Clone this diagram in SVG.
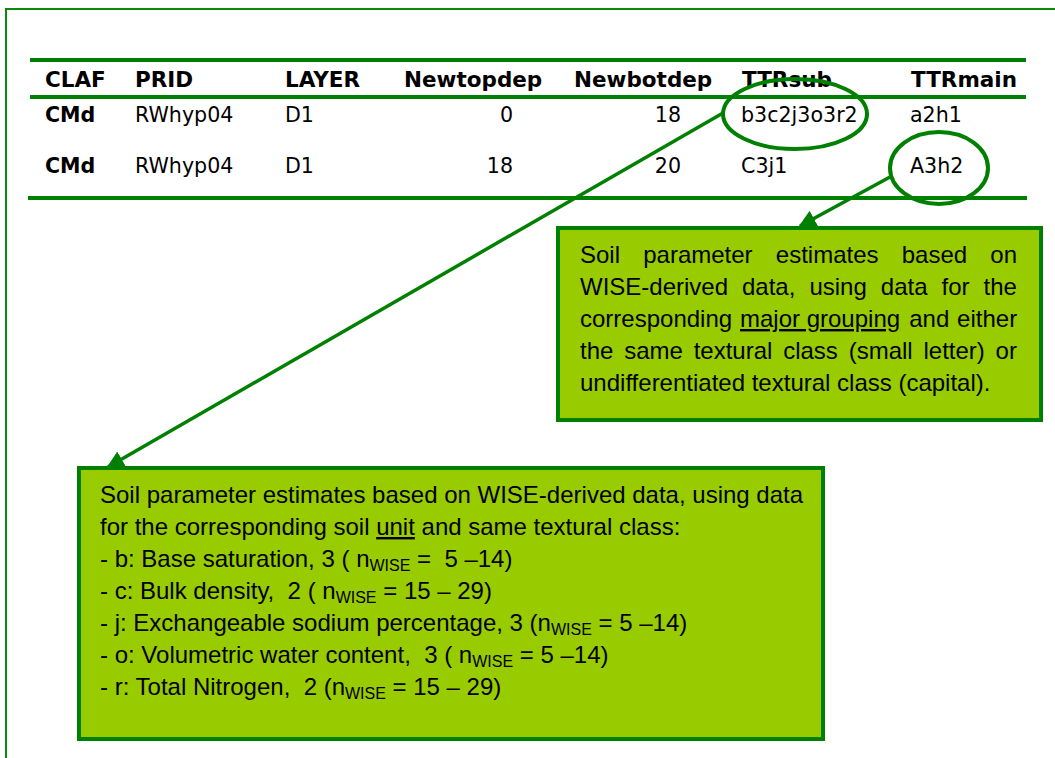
<svg xmlns="http://www.w3.org/2000/svg" width="1055" height="758" viewBox="0 0 1055 758">
<style>
.frame{fill:none;stroke:#0b8a0b;stroke-width:2}
.rule{stroke:#008000;stroke-width:4}
.hd{font-family:"DejaVu Sans",Verdana,sans-serif;font-weight:bold;font-size:21.5px;fill:#000}
.cell{font-family:"DejaVu Sans",Verdana,sans-serif;font-size:20.6px;fill:#000}
.cellb{font-family:"DejaVu Sans",Verdana,sans-serif;font-size:20.6px;font-weight:bold;fill:#000}
.ring{fill:none;stroke:#008000;stroke-width:4}
.box{fill:#99cc00;stroke:#008000;stroke-width:4}
.bt{font-family:"Liberation Sans",Arial,sans-serif;font-size:24px;fill:#000;white-space:pre}
.sub{font-size:16px}
.conn{stroke:#008000;stroke-width:3.5;fill:none}
</style>
<defs>
<marker id="arr" viewBox="0 0 10 10" refX="9" refY="5" markerWidth="5" markerHeight="5" markerUnits="strokeWidth" orient="auto">
<path d="M0,0 L10,5 L0,10 z" fill="#008000"/>
</marker>
</defs>
<rect width="1055" height="758" fill="#fff"/>
<rect class="frame" x="6" y="9" width="1100" height="800"/>

<g id="table">
<line class="rule" x1="30" y1="60" x2="1026" y2="60"/>
<line class="rule" x1="30" y1="97" x2="1026" y2="97"/>
<line class="rule" x1="28" y1="198" x2="1027" y2="198"/>
<text class="hd" x="45" y="87">CLAF</text>
<text class="hd" x="135" y="87">PRID</text>
<text class="hd" x="285" y="87">LAYER</text>
<text class="hd" x="404" y="87">Newtopdep</text>
<text class="hd" x="574" y="87">Newbotdep</text>
<text class="hd" x="742" y="87">TTRsub</text>
<text class="hd" x="911" y="87">TTRmain</text>
<text class="cellb" x="45" y="122">CMd</text>
<text class="cell" x="135" y="122">RWhyp04</text>
<text class="cell" x="285" y="122">D1</text>
<text class="cell" x="513" y="122" text-anchor="end">0</text>
<text class="cell" x="681" y="122" text-anchor="end">18</text>
<text class="cell" x="741" y="122">b3c2j3o3r2</text>
<text class="cell" x="910" y="122">a2h1</text>
<text class="cellb" x="45" y="173">CMd</text>
<text class="cell" x="135" y="173">RWhyp04</text>
<text class="cell" x="285" y="173">D1</text>
<text class="cell" x="513" y="173" text-anchor="end">18</text>
<text class="cell" x="681" y="173" text-anchor="end">20</text>
<text class="cell" x="741" y="173">C3j1</text>
<text class="cell" x="910" y="173">A3h2</text>
</g>

<g id="connectors">
<ellipse class="ring" cx="795" cy="114" rx="72" ry="35"/>
<ellipse class="ring" cx="939" cy="168" rx="49" ry="36"/>
<line class="conn" x1="723" y1="113" x2="108" y2="467" marker-end="url(#arr)"/>
<line class="conn" x1="890" y1="177" x2="800" y2="226" marker-end="url(#arr)"/>
</g>

<g id="note-main">
<rect class="box" x="558" y="228" width="483" height="192"/>
<text class="bt" y="263"><tspan x="580">Soil</tspan><tspan x="643.2">parameter</tspan><tspan x="775.8">estimates</tspan><tspan x="901.7">based</tspan><tspan x="990.3">on</tspan></text>
<text class="bt" y="295"><tspan x="580">WISE-derived</tspan><tspan x="742">data,</tspan><tspan x="809.4">using</tspan><tspan x="880.8">data</tspan><tspan x="941.5">for</tspan><tspan x="983.5">the</tspan></text>
<text class="bt" y="327"><tspan x="580">corresponding</tspan><tspan x="740" text-decoration="underline">major grouping</tspan><tspan x="909.2">and</tspan><tspan x="957.1">either</tspan></text>
<text class="bt" y="359"><tspan x="580">the</tspan><tspan x="624.2">same</tspan><tspan x="693.7">textural</tspan><tspan x="783.2">class</tspan><tspan x="848.7">(small</tspan><tspan x="923.5">letter)</tspan><tspan x="995.6">or</tspan></text>
<text class="bt" x="580" y="391">undifferentiated textural class (capital).</text>
</g>

<g id="note-sub">
<rect class="box" x="79" y="468" width="744" height="271"/>
<text class="bt" x="100" y="503">Soil parameter estimates based on WISE-derived data, using data</text>
<text class="bt" x="100" y="535">for the corresponding soil <tspan text-decoration="underline">unit</tspan> and same textural class:</text>
<text class="bt" x="100" y="567">- b: Base saturation, 3 ( n<tspan class="sub" dy="4">WISE</tspan><tspan dy="-4"> =  5 –14)</tspan></text>
<text class="bt" x="100" y="599">- c: Bulk density,  2 ( n<tspan class="sub" dy="4">WISE</tspan><tspan dy="-4"> = 15 – 29)</tspan></text>
<text class="bt" x="100" y="631">- j: Exchangeable sodium percentage, 3 (n<tspan class="sub" dy="4">WISE</tspan><tspan dy="-4"> = 5 –14)</tspan></text>
<text class="bt" x="100" y="663">- o: Volumetric water content,  3 ( n<tspan class="sub" dy="4">WISE</tspan><tspan dy="-4"> = 5 –14)</tspan></text>
<text class="bt" x="100" y="695">- r: Total Nitrogen,  2 (n<tspan class="sub" dy="4">WISE</tspan><tspan dy="-4"> = 15 – 29)</tspan></text>
</g>
</svg>
